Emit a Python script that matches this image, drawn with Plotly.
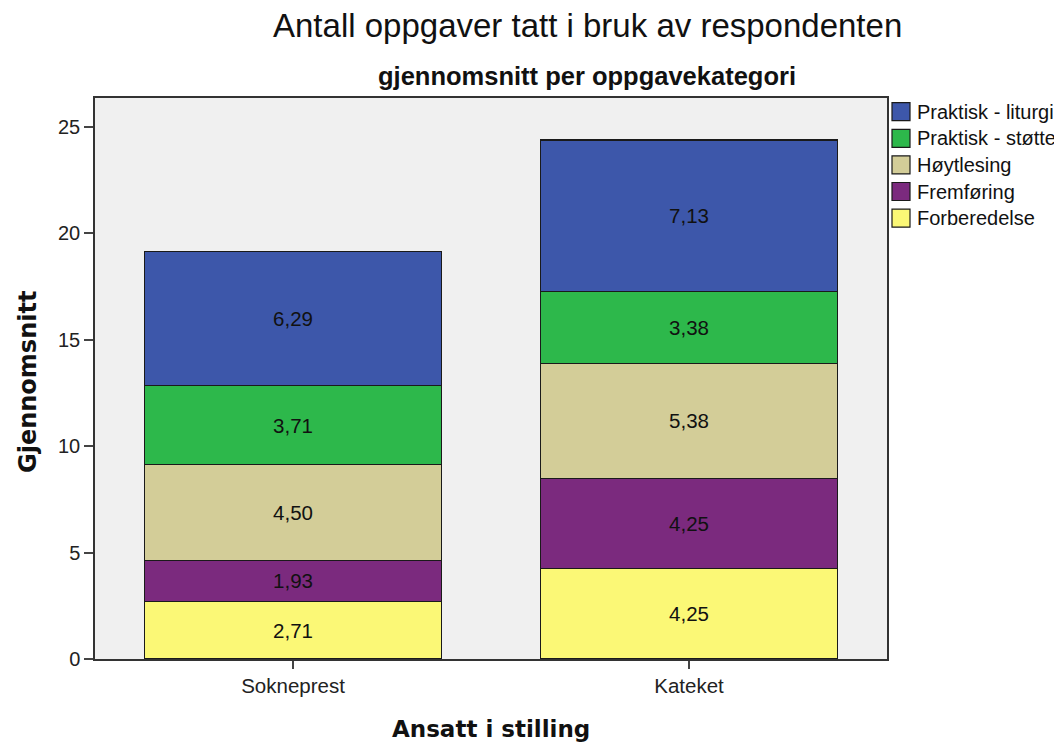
import plotly.graph_objects as go

categories = ["Sokneprest", "Kateket"]
series_names = ["Forberedelse", "Fremføring", "Høytlesing", "Praktisk - støtte", "Praktisk - liturgi"]
forberedelse = [2.71, 4.25]
fremforing = [1.93, 4.25]
hoytlesing = [4.50, 5.38]
praktisk_stotte = [3.71, 3.38]
praktisk_liturgi = [6.29, 7.13]
series_values = [forberedelse, fremforing, hoytlesing, praktisk_stotte, praktisk_liturgi]
colors = ["#FBF876", "#7B2A7E", "#D3CD98", "#2DB84B", "#3D57AA"]
y_ticks = [0, 5, 10, 15, 20, 25]

FONT = "Liberation Sans, Arial, sans-serif"
BOLDFONT = "DejaVu Sans, Verdana, sans-serif"

# page body has an 8px margin; figure coords = screen coords - 8
OFF = 8
W, H = 1062 - OFF, 744 - OFF
L, R, T, B = 95 - OFF, 887 - OFF, 98 - OFF, 659 - OFF


def px_x(sx):
    return (sx - OFF - L) / (R - L)


def px_y(sy):
    return (B - (sy - OFF)) / (B - T)


fig = go.Figure()
for name, vals, col in zip(series_names, series_values, colors):
    fig.add_trace(go.Bar(
        x=categories, y=vals, name=name,
        marker=dict(color=col, line=dict(color="#1a1a1a", width=1.2)),
        texttemplate="%{y:.2f}", textposition="inside", insidetextanchor="middle",
        textangle=0,
        textfont=dict(family=FONT, size=20.5, color="#111111"),
        width=0.75, showlegend=False,
    ))

# custom legend (top entry = last stacked series)
shapes = []
legend_ann = []
row0, step, half = 111.7, 26.6, 9
for i, (name, col) in enumerate(zip(reversed(series_names), reversed(colors))):
    cy = row0 + i * step
    shapes.append(dict(type="rect", xref="paper", yref="paper",
                       x0=px_x(892), x1=px_x(910), y0=px_y(cy + half), y1=px_y(cy - half),
                       fillcolor=col, line=dict(color="#1a1a1a", width=1.2)))
    legend_ann.append(dict(text=name, xref="paper", yref="paper",
                           x=px_x(915), y=px_y(cy), xanchor="left", yanchor="middle",
                           showarrow=False,
                           font=dict(family=FONT, size=20, color="#111111")))

fig.update_layout(
    width=W, height=H,
    barmode="stack",
    separators=",.",
    paper_bgcolor="white",
    plot_bgcolor="#F0F0F0",
    margin=dict(l=L, r=W - R, t=T, b=H - B, autoexpand=False),
    font=dict(family=FONT, size=20, color="#222222"),
    showlegend=False,
    xaxis=dict(
        range=[-0.5, 1.5], showline=True, linecolor="#333333", linewidth=1.5,
        mirror=True, ticks="outside", ticklen=8, tickcolor="#444444", tickwidth=1.5,
        tickfont=dict(family=FONT, size=20.5, color="#222222"),
        showgrid=False, zeroline=False,
    ),
    yaxis=dict(
        range=[0, 26.36], tickvals=y_ticks, showline=True, linecolor="#333333",
        linewidth=1.5, mirror=True, ticks="outside", ticklen=9, tickcolor="#444444",
        tickwidth=1.5,
        tickfont=dict(family=FONT, size=20, color="#222222"),
        showgrid=False, zeroline=False,
    ),
    shapes=shapes,
    annotations=[
        dict(text="Antall oppgaver tatt i bruk av respondenten", xref="paper", yref="paper",
             x=px_x(587), y=px_y(26),
             xanchor="center", yanchor="middle", showarrow=False,
             font=dict(family=FONT, size=33, color="#111111")),
        dict(text="<b>gjennomsnitt per oppgavekategori</b>", xref="paper", yref="paper",
             x=px_x(587), y=px_y(76),
             xanchor="center", yanchor="middle", showarrow=False,
             font=dict(family=FONT, size=25.5, color="#111111")),
        dict(text="<b>Ansatt i stilling</b>", xref="paper", yref="paper",
             x=0.5, y=px_y(729),
             xanchor="center", yanchor="middle", showarrow=False,
             font=dict(family=BOLDFONT, size=23, color="#111111")),
        dict(text="<b>Gjennomsnitt</b>", xref="paper", yref="paper",
             x=px_x(28), y=px_y(382), textangle=-90,
             xanchor="center", yanchor="middle", showarrow=False,
             font=dict(family=BOLDFONT, size=24, color="#111111")),
    ] + legend_ann,
)

fig.write_html("out.html")
